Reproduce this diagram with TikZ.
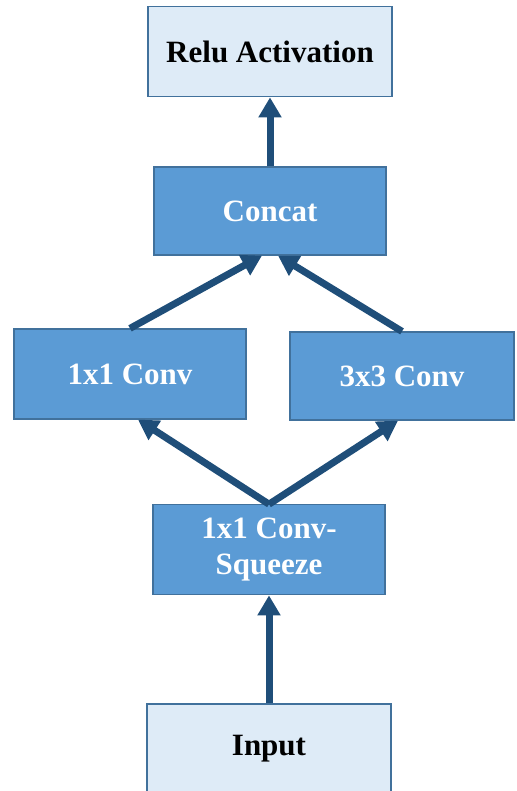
\documentclass[tikz,border=0pt]{standalone}
\usepackage{fontspec}
\setmainfont{Liberation Serif}
\usetikzlibrary{positioning,arrows.meta}
\usepackage{xcolor}
\definecolor{SqzDark}{RGB}{31,78,121}
\definecolor{SqzBlue}{RGB}{91,155,213}
\definecolor{SqzLight}{RGB}{222,235,247}
\definecolor{SqzEdge}{RGB}{65,113,156}

\begin{document}
\begin{tikzpicture}[
x=1pt,y=1pt,
node distance=108pt,
lightbox/.style={rectangle,draw=SqzEdge,fill=SqzLight,line width=1.2pt,
minimum width=244pt,minimum height=90pt,align=center,
font=\fontsize{31}{36}\selectfont\bfseries},
darkbox/.style={rectangle,draw=SqzEdge,fill=SqzBlue,text=white,line width=1.2pt,
minimum width=232pt,minimum height=88pt,align=center,
font=\fontsize{31}{36}\selectfont\bfseries},
arrow/.style={-{Triangle[length=20pt,width=22pt]},line width=7pt,draw=SqzDark}
]
\useasboundingbox (0,0) rectangle (516,791);
\node[lightbox] (input) at (269,42) {Input};
\node[darkbox,above=of input,minimum height=90pt] (squeeze) {1x1 Conv-\\Squeeze};
\node[darkbox,minimum height=90pt] (conv1) at (130,417) {1x1 Conv};
\node[darkbox,minimum width=224pt] (conv3) at (402,415) {3x3 Conv};
\node[darkbox] (concat) at (270,580) {Concat};
\node[lightbox,above=69pt of concat] (relu) {Relu Activation};
\draw[arrow] (input)--(squeeze);
\draw[arrow] (squeeze.north)--([xshift=8pt]conv1.south); \draw[arrow] (squeeze.north)--([xshift=-4pt]conv3.south);
\draw[arrow] (conv1.north)--([xshift=-8pt]concat.south); \draw[arrow] (conv3.north)--([xshift=8pt]concat.south);
\draw[arrow] (concat)--(relu);
\end{tikzpicture}
\end{document}
